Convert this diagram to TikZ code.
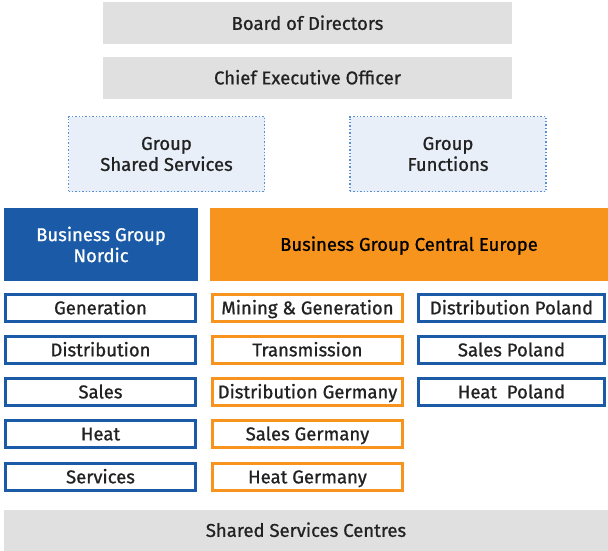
\documentclass[tikz,border=0pt]{standalone}
\usepackage{fontspec}
\setmainfont{Fira Sans}[FakeBold=0.9]
\definecolor{panelgray}{HTML}{E0E0E0}
\definecolor{nordicblue}{HTML}{1B5AA6}
\definecolor{ceorange}{HTML}{F7941D}
\definecolor{paleblue}{HTML}{E8EFF8}
\definecolor{dotblue}{HTML}{5B8FD0}
\definecolor{inkgray}{HTML}{222222}
\begin{document}
\begin{tikzpicture}[x=1pt,y=-1pt,
  every node/.style={font=\fontsize{18.5}{21}\selectfont, text=inkgray, align=center, inner sep=0pt},
  oneline/.style={text height=12.7pt, text depth=0pt},
  graybar/.style={oneline, fill=panelgray, minimum width=#1, minimum height=42},
  staffbox/.style={fill=paleblue, draw=dotblue, dotted, line width=1.4pt, minimum width=196, minimum height=75},
  groupbox/.style={minimum height=73},
  unitbox/.style={oneline, draw=#1, fill=white, line width=3pt, minimum height=27},
]
\useasboundingbox (0,0) rectangle (608,551);

% governance
\node[graybar=409] (board) at (307.5,23.5) {Board of Directors};
\node[graybar=409] (ceo) at (307.5,78) {Chief Executive Officer};

% staff functions
\node[staffbox] (gss) at (166.5,154) {Group\\Shared Services};
\node[staffbox] (gf) at (448,154) {Group\\Functions};

% business groups
\node[groupbox, fill=nordicblue, text=white, minimum width=194] (bgn) at (101,244.5) {Business Group\\Nordic};
\node[groupbox, oneline, fill=ceorange, text=black, minimum width=398] (bgce) at (409,244.5) {Business Group Central Europe};

% Nordic units
\node[unitbox=nordicblue, minimum width=190] (gen) at (100.5,308) {Generation};
\node[unitbox=nordicblue, minimum width=190] (dist) at (100.5,350) {Distribution};
\node[unitbox=nordicblue, minimum width=190] (sales) at (100.5,392) {Sales};
\node[unitbox=nordicblue, minimum width=190] (heat) at (100.5,434) {Heat};
\node[unitbox=nordicblue, minimum width=190] (serv) at (100.5,477) {Services};

% Central Europe units, Germany
\node[unitbox=ceorange, minimum width=190] (mining) at (307.5,308) {Mining \& Generation};
\node[unitbox=ceorange, minimum width=190] (trans) at (307.5,350) {Transmission};
\node[unitbox=ceorange, minimum width=190] (distde) at (307.5,392) {Distribution Germany};
\node[unitbox=ceorange, minimum width=190] (salesde) at (307.5,434) {Sales Germany};
\node[unitbox=ceorange, minimum width=190] (heatde) at (307.5,477) {Heat Germany};

% Central Europe units, Poland
\node[unitbox=nordicblue, minimum width=186] (distpl) at (511.5,308) {Distribution Poland};
\node[unitbox=nordicblue, minimum width=186] (salespl) at (511.5,350) {Sales Poland};
\node[unitbox=nordicblue, minimum width=186] (heatpl) at (511.5,392) {Heat\ \ Poland};

% shared services
\node[graybar=604, minimum height=41] (ssc) at (306,530.5) {Shared Services Centres};
\end{tikzpicture}
\end{document}
